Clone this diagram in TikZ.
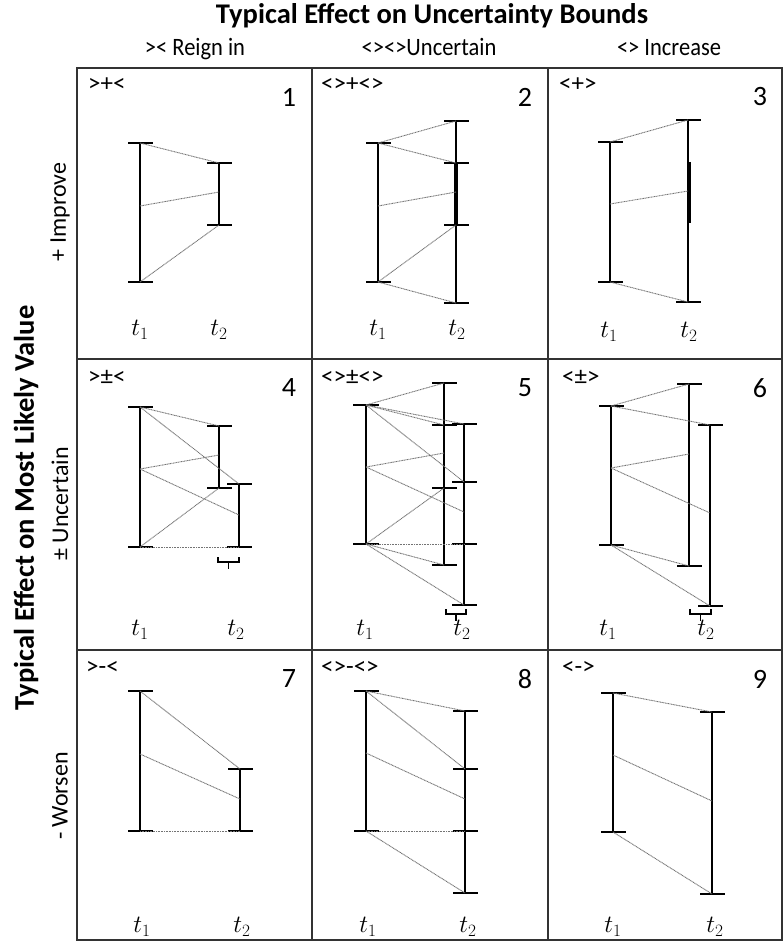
\documentclass[tikz,border=0pt]{standalone}
\usepackage{fontspec}
\setmainfont{Carlito}
\tikzset{
 gridline/.style={draw=black!80, line width=1.8pt},
 ebar/.style={line width=2pt},
 ecap/.style={line width=1.4pt},
 link/.style={draw=black!55, line width=0.9pt, dash pattern=on 1pt off 0.6pt},
 code/.style={anchor=west, font=\fontsize{25}{29}\selectfont, inner sep=0pt},
 num/.style={font=\fontsize{28}{32}\selectfont, inner sep=0pt},
 tlab/.style={font=\fontsize{24}{28}\selectfont, inner sep=0pt},
 bigtitle/.style={font=\bfseries\fontsize{28.5}{32}\selectfont, inner sep=0pt},
 colhead/.style={font=\fontsize{25}{29}\selectfont, inner sep=0pt, anchor=base},
 rowhead/.style={font=\fontsize{24}{28}\selectfont, inner sep=0pt, rotate=90},
}
\newcommand\EB[4]{%
 \coordinate (#1t) at (#2,#3);
 \coordinate (#1b) at (#2,#4);
 \draw[ebar] (#1t) -- (#1b);
 \draw[ecap] ([xshift=-12pt]#1t) -- ([xshift=13pt]#1t);
 \draw[ecap] ([xshift=-12pt]#1b) -- ([xshift=13pt]#1b);}
\newcommand\TK[3]{%
 \coordinate (#1) at (#2,#3);
 \draw[ecap] ([xshift=-12pt]#1) -- ([xshift=13pt]#1);}
\newcommand\BR[4]{%
 \coordinate (#1) at ({(#2+#3)/2},#4);
 \draw[line width=1.1pt] (#2,#4-5) -- (#2,#4) -- (#3,#4) -- (#3,#4-5);
 \draw[line width=1.1pt] (#1) -- ++(0,7);}
\newcommand\cond[1]{\scalebox{0.9}[1]{#1}}
\begin{document}
\begin{tikzpicture}[x=1pt,y=-1pt]
\useasboundingbox (0,0) rectangle (783,941);
% headings
\node[bigtitle] (title) at (432,16) {Typical Effect on Uncertainty Bounds};
\node[colhead] (h1) at (195,56) {\cond{>< Reign in}};
\node[colhead] (h2) at (429,56) {\cond{<><>Uncertain}};
\node[colhead] (h3) at (669,56) {\cond{<> Increase}};
\node[bigtitle, rotate=90] (vtitle) at (26,508) {Typical Effect on Most Likely Value};
\node[rowhead] (r1) at (60,212) {+ Improve};
\node[rowhead] (r2) at (60,504) {± Uncertain};
\node[rowhead] (r3) at (60,796) {- Worsen};
% grid
\draw[gridline] (77,68) rectangle (782,940);
\draw[gridline] (312,68) -- (312,940);
\draw[gridline] (548,68) -- (548,940);
\draw[gridline] (77,359) -- (782,359);
\draw[gridline] (77,650) -- (782,650);
% cell codes and numbers
\node[code] (k1) at (88,85) {>+<};
\node[code] (k2) at (321,85) {<>+<>};
\node[code] (k3) at (559,85) {<+>};
\node[code] (k4) at (88,377) {>±<};
\node[code] (k5) at (321,377) {<>±<>};
\node[code] (k6) at (562,377) {<±>};
\node[code] (k7) at (86,668) {>-<};
\node[code] (k8) at (321,668) {<>-<>};
\node[code] (k9) at (562,668) {<->};
\node[num] (n1) at (289,97) {1};
\node[num] (n2) at (525,97) {2};
\node[num] (n3) at (760,97) {3};
\node[num] (n4) at (289,388) {4};
\node[num] (n5) at (525,388) {5};
\node[num] (n6) at (760,388) {6};
\node[num] (n7) at (289,679) {7};
\node[num] (n8) at (525,679) {8};
\node[num] (n9) at (760,679) {9};
% ---------- cell 1
\coordinate (aam) at (140,206); \coordinate (abm) at (219,192);
\EB{aa}{140}{143}{282} \EB{ab}{219}{163}{225}
\draw[link] (aat) -- (abt); \draw[link] (aam) -- (abm); \draw[link] (aab) -- (abb);
\node[tlab] (t11) at (140,330) {$t_1$}; \node[tlab] (t12) at (219,330) {$t_2$};
% ---------- cell 2
\coordinate (bam) at (378,206); \coordinate (bbm) at (456,192);
\EB{ba}{378}{143}{282} \EB{bb}{456}{121}{303}
\TK{bbx}{456}{163} \TK{bby}{456}{225}
\draw[line width=3.2pt] (bbx) -- (bby);
\draw[link] (bat) -- (bbt); \draw[link] (bat) -- (bbx); \draw[link] (bam) -- (bbm);
\draw[link] (bab) -- (bby); \draw[link] (bab) -- (bbb);
\node[tlab] (t21) at (378,330) {$t_1$}; \node[tlab] (t22) at (457,330) {$t_2$};
% ---------- cell 3
\coordinate (cam) at (610,204); \coordinate (cbm) at (688,191);
\EB{ca}{610}{142}{282} \EB{cb}{688}{120}{302}
\coordinate (cbx) at (689.5,162); \coordinate (cby) at (689.5,223);
\draw[line width=3pt] (cbx) -- (cby);
\draw[link] (cat) -- (cbt); \draw[link] (cam) -- (cbm); \draw[link] (cab) -- (cbb);
\node[tlab] (t31) at (609,332) {$t_1$}; \node[tlab] (t32) at (689,332) {$t_2$};
% ---------- cell 4
\coordinate (dam) at (140,469); \coordinate (dbm) at (219,455); \coordinate (dcm) at (239,515);
\EB{da}{140}{407}{547} \EB{db}{219}{426}{488} \EB{dc}{239}{484}{547}
\draw[link] (dat) -- (dbt); \draw[link] (dat) -- (dct);
\draw[link] (dam) -- (dbm); \draw[link] (dam) -- (dcm);
\draw[link] (dab) -- (dbb); \draw[link] (dab) -- (dcb);
\BR{dbr}{218}{239}{562}
\node[tlab] (t41) at (140,630) {$t_1$}; \node[tlab] (t42) at (236,630) {$t_2$};
% ---------- cell 5
\coordinate (eam) at (366,467); \coordinate (ebm) at (444,453); \coordinate (ecm) at (464,512);
\EB{eb}{444}{383}{565} \EB{ec}{464}{424}{605}
\TK{ebx}{444}{425} \TK{eby}{444}{488} \TK{ecx}{464}{482} \TK{ecy}{464}{544}
\coordinate (eat) at (366,405); \coordinate (eab) at (366,544);
\draw[line width=2.8pt] (eat) -- (eab);
\draw[line width=2.2pt] ([xshift=-13pt]eat) -- ([xshift=13pt]eat);
\draw[line width=2.2pt] ([xshift=-13pt]eab) -- ([xshift=13pt]eab);
\draw[link] (eat) -- (ebt); \draw[link] (eat) -- (ebx); \draw[link] (eat) -- (ect); \draw[link] (eat) -- (ecx);
\draw[link] (eam) -- (ebm); \draw[link] (eam) -- (ecm);
\draw[link] (eab) -- (eby); \draw[link] (eab) -- (ebb); \draw[link] (eab) -- (ecy); \draw[link] (eab) -- (ecb);
\BR{ebr}{446}{466}{614}
\node[tlab] (t51) at (365,630) {$t_1$}; \node[tlab] (t52) at (462,630) {$t_2$};
% ---------- cell 6
\coordinate (fam) at (611,468); \coordinate (fbm) at (689,454); \coordinate (fcm) at (710,513);
\EB{fa}{611}{406}{545} \EB{fb}{689}{384}{566} \EB{fc}{710}{425}{606}
\draw[link] (fat) -- (fbt); \draw[link] (fat) -- (fct);
\draw[link] (fam) -- (fbm); \draw[link] (fam) -- (fcm);
\draw[link] (fab) -- (fbb); \draw[link] (fab) -- (fcb);
\BR{fbr}{690}{711}{614}
\node[tlab] (t61) at (608,630) {$t_1$}; \node[tlab] (t62) at (706,630) {$t_2$};
% ---------- cell 7
\coordinate (gam) at (140,754); \coordinate (gbm) at (240,799);
\EB{ga}{140}{691}{831} \EB{gb}{240}{769}{831}
\draw[link] (gat) -- (gbt); \draw[link] (gam) -- (gbm); \draw[link] (gab) -- (gbb);
\node[tlab] (t71) at (142,927) {$t_1$}; \node[tlab] (t72) at (242,927) {$t_2$};
% ---------- cell 8
\coordinate (ham) at (366,753); \coordinate (hbm) at (465,799);
\EB{ha}{366}{691}{831} \EB{hb}{465}{711}{893}
\TK{hbx}{465}{769} \TK{hby}{465}{831}
\draw[link] (hat) -- (hbt); \draw[link] (hat) -- (hbx); \draw[link] (ham) -- (hbm);
\draw[link] (hab) -- (hby); \draw[link] (hab) -- (hbb);
\node[tlab] (t81) at (368,927) {$t_1$}; \node[tlab] (t82) at (468,927) {$t_2$};
% ---------- cell 9
\coordinate (iam) at (613,755); \coordinate (ibm) at (712,801);
\EB{ia}{613}{693}{832} \EB{ib}{712}{712}{894}
\draw[link] (iat) -- (ibt); \draw[link] (iam) -- (ibm); \draw[link] (iab) -- (ibb);
\node[tlab] (t91) at (613,927) {$t_1$}; \node[tlab] (t92) at (715,927) {$t_2$};
\end{tikzpicture}
\end{document}
